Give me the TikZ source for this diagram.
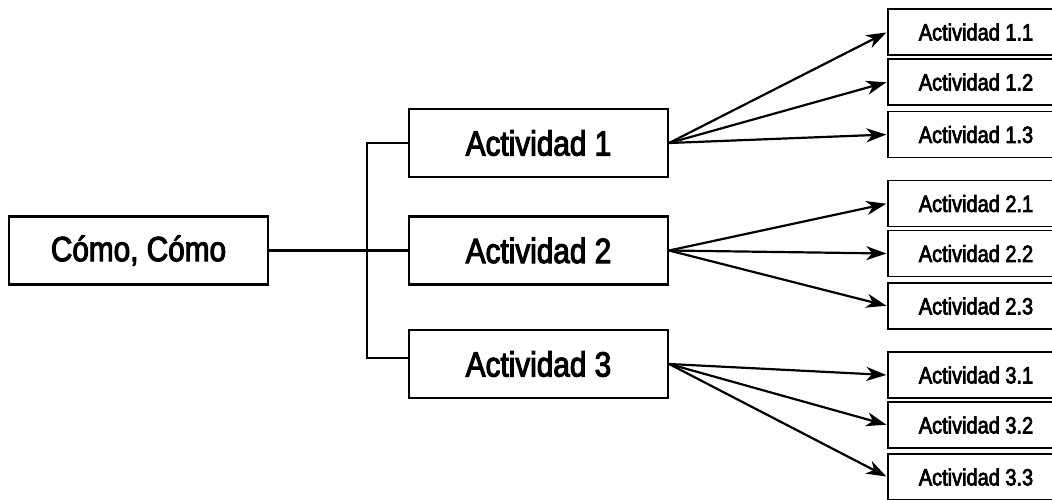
\documentclass[tikz,border=0pt]{standalone}
\usepackage{fontspec}
\newfontfamily\condfont[FakeStretch=0.85,FakeBold=3]{Liberation Sans}
\usetikzlibrary{arrows.meta}

\tikzset{
	bigbox/.style={draw, line width=2.2pt, minimum width=259pt, minimum height=68pt, inner sep=0pt, font=\condfont\fontsize{35}{35}\selectfont},
	smallbox/.style={draw, line width=1.4pt, minimum width=176pt, minimum height=46pt, inner sep=0pt, font=\condfont\fontsize{23.5}{24}\selectfont},
	link/.style={line width=2.2pt},
	arr/.style={line width=2.2pt, -{Stealth[length=20pt,width=14pt,inset=6pt]}, shorten >=1pt}
}

\begin{document}
\begin{tikzpicture}[x=1pt,y=-1pt]

\useasboundingbox (0,0) rectangle (1052,499);
\clip (0,0) rectangle (1052,499);

\node[bigbox] (root) at (138.5,250.5) {Cómo, Cómo};

\node[bigbox] (act1) at (538.5,143) {Actividad 1};
\node[bigbox] (act2) at (538.5,250.5) {Actividad 2};
\node[bigbox] (act3) at (538.5,364) {Actividad 3};

\coordinate (jn) at (367,250.5);

\draw[link] (root.east) -- (jn);
\draw[link] (act1.west) -| (jn);
\draw[link] (jn) -- (act2.west);
\draw[link] (jn) |- ([yshift=6pt]act3.west);

% second level
\foreach \i/\j/\y in {1/1/32,1/2/82,1/3/134.5,2/1/203.5,2/2/253.5,2/3/306,3/1/375,3/2/425,3/3/477}{
	\node[smallbox] (s\i\j) at (976,\y) {Actividad \i.\j};
}

\foreach \i/\j in {1/1,1/2,1/3,2/1,2/2,2/3,3/1,3/2,3/3}{
	\draw[arr] (act\i.east) -- (s\i\j.west);
}

\end{tikzpicture}
\end{document}
